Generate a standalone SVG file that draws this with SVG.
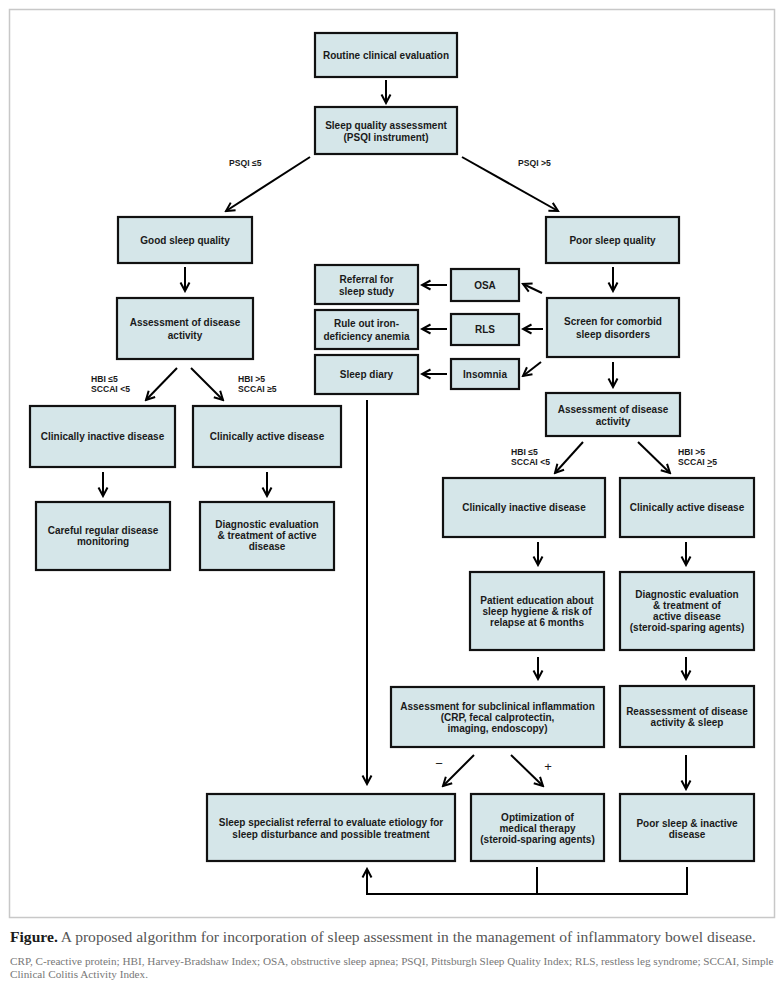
<svg xmlns="http://www.w3.org/2000/svg" width="784" height="989" viewBox="0 0 784 989">
<style>
.b{fill:#d5e6e9;stroke:#111;stroke-width:2.2}
.t{font-family:"Liberation Sans",Arial,sans-serif;font-weight:bold;font-size:10px;fill:#1a1a1a;text-anchor:middle}
.l{font-family:"Liberation Sans",Arial,sans-serif;font-weight:bold;font-size:8.6px;fill:#1a1a1a}
.c{stroke:#000;stroke-width:2;fill:none}
.a{marker-end:url(#ah)}
.cap{font-family:"Liberation Serif","Times New Roman",serif;fill:#555}
</style>
<defs>
<marker id="ah" viewBox="0 0 12 12" refX="10" refY="6" markerWidth="12" markerHeight="12" markerUnits="userSpaceOnUse" orient="auto">
<path d="M1.5,1.5 L10,6 L1.5,10.5" fill="none" stroke="#000" stroke-width="2"/>
</marker>
</defs>
<rect x="0" y="0" width="784" height="989" fill="#fff"/>
<rect x="9.5" y="9.5" width="765" height="908" fill="none" stroke="#c8c8c8" stroke-width="1.5"/>

<g id="connectors">
<path class="c a" d="M386,80 V103"/>
<path class="c a" d="M310,157 L226,211"/>
<path class="c a" d="M462,157 L558,211"/>
<path class="c a" d="M185,267 V291"/>
<path class="c a" d="M613,267 V291"/>
<path class="c a" d="M177,368 L146,400"/>
<path class="c a" d="M191,368 L223,400"/>
<path class="c a" d="M103,472 V496"/>
<path class="c a" d="M267,472 V496"/>
<path class="c a" d="M542,293 L523,284"/>
<path class="c a" d="M543,329 H523"/>
<path class="c a" d="M541,362 L523,376"/>
<path class="c a" d="M447,285 H422"/>
<path class="c a" d="M447,329 H422"/>
<path class="c a" d="M447,374 H422"/>
<path class="c a" d="M367,400 V784"/>
<path class="c a" d="M613,362 V387"/>
<path class="c a" d="M583,442 L555,473"/>
<path class="c a" d="M638,442 L670,473"/>
<path class="c a" d="M538,542 V565"/>
<path class="c a" d="M686,542 V565"/>
<path class="c a" d="M538,657 V679"/>
<path class="c a" d="M686,657 V679"/>
<path class="c a" d="M474,755 L443,786"/>
<path class="c a" d="M511,755 L543,786"/>
<path class="c a" d="M686,755 V789"/>
<path class="c" d="M537,867 V894"/>
<path class="c a" d="M687,867 V894 H367 V869"/>
</g>

<g id="labels">
<text class="l" x="229" y="166">PSQI ≤5</text>
<text class="l" x="518" y="166">PSQI &gt;5</text>
<text class="l" x="91" y="382">HBI ≤5</text>
<text class="l" x="91" y="392">SCCAI &lt;5</text>
<text class="l" x="238" y="382">HBI &gt;5</text>
<text class="l" x="238" y="392">SCCAI ≥5</text>
<text class="l" x="511" y="455">HBI ≤5</text>
<text class="l" x="511" y="465">SCCAI &lt;5</text>
<text class="l" x="678" y="455">HBI &gt;5</text>
<text class="l" x="678" y="465">SCCAI <tspan text-decoration="underline">&gt;</tspan>5</text>
<text class="t" x="439" y="768" style="font-size:13px;font-weight:normal">−</text>
<text class="t" x="548" y="771" style="font-size:13px;font-weight:normal">+</text>
</g>

<g id="routine"><rect class="b" x="315" y="33" width="142" height="44"/><text class="t" x="386" y="58.5">Routine clinical evaluation</text></g>
<g id="sleepquality"><rect class="b" x="315" y="107" width="142" height="47"/><text class="t" x="386" y="128.5">Sleep quality assessment</text><text class="t" x="386" y="140.5">(PSQI instrument)</text></g>
<g id="good"><rect class="b" x="118" y="217" width="134" height="46"/><text class="t" x="185" y="243.5">Good sleep quality</text></g>
<g id="poor"><rect class="b" x="546" y="217" width="133" height="46"/><text class="t" x="612.5" y="243.5">Poor sleep quality</text></g>
<g id="assessL"><rect class="b" x="117" y="298" width="136" height="61"/><text class="t" x="185" y="325.5">Assessment of disease</text><text class="t" x="185" y="338.5">activity</text></g>
<g id="inactiveL"><rect class="b" x="30" y="406" width="145" height="61"/><text class="t" x="102.5" y="439.5">Clinically inactive disease</text></g>
<g id="activeL"><rect class="b" x="193" y="406" width="148" height="61"/><text class="t" x="267" y="439.5">Clinically active disease</text></g>
<g id="careful"><rect class="b" x="36" y="502" width="134" height="68"/><text class="t" x="103" y="533.5">Careful regular disease</text><text class="t" x="103" y="544.5">monitoring</text></g>
<g id="diagL"><rect class="b" x="200" y="502" width="134" height="68"/><text class="t" x="267" y="527.5">Diagnostic evaluation</text><text class="t" x="267" y="538.5">&amp; treatment of active</text><text class="t" x="267" y="549.5">disease</text></g>
<g id="referral"><rect class="b" x="315" y="265" width="103" height="39"/><text class="t" x="366.5" y="282.5">Referral for</text><text class="t" x="366.5" y="294.5">sleep study</text></g>
<g id="ruleout"><rect class="b" x="315" y="310" width="103" height="39"/><text class="t" x="366.5" y="326.5">Rule out iron-</text><text class="t" x="366.5" y="339.5">deficiency anemia</text></g>
<g id="diary"><rect class="b" x="315" y="355" width="103" height="39"/><text class="t" x="366.5" y="377.5">Sleep diary</text></g>
<g id="osa"><rect class="b" x="451" y="269" width="68" height="32"/><text class="t" x="485" y="288.5">OSA</text></g>
<g id="rls"><rect class="b" x="451" y="314" width="68" height="31"/><text class="t" x="485" y="332.5">RLS</text></g>
<g id="insomnia"><rect class="b" x="451" y="359" width="68" height="30"/><text class="t" x="485" y="377.5">Insomnia</text></g>
<g id="screen"><rect class="b" x="547" y="298" width="132" height="59"/><text class="t" x="613" y="324.5">Screen for comorbid</text><text class="t" x="613" y="337.5">sleep disorders</text></g>
<g id="assessR"><rect class="b" x="546" y="393" width="134" height="43"/><text class="t" x="613" y="412.5">Assessment of disease</text><text class="t" x="613" y="424.5">activity</text></g>
<g id="inactiveR"><rect class="b" x="443" y="478" width="162" height="59"/><text class="t" x="524" y="510.5">Clinically inactive disease</text></g>
<g id="activeR"><rect class="b" x="620" y="478" width="134" height="59"/><text class="t" x="687" y="510.5">Clinically active disease</text></g>
<g id="patient"><rect class="b" x="470" y="572" width="134" height="78"/><text class="t" x="537" y="603.5">Patient education about</text><text class="t" x="537" y="614.5">sleep hygiene &amp; risk of</text><text class="t" x="537" y="625.5">relapse at 6 months</text></g>
<g id="diagR"><rect class="b" x="620" y="572" width="134" height="78"/><text class="t" x="687" y="597.5">Diagnostic evaluation</text><text class="t" x="687" y="608.5">&amp; treatment of</text><text class="t" x="687" y="619.5">active disease</text><text class="t" x="687" y="631">(steroid-sparing agents)</text></g>
<g id="subclinical"><rect class="b" x="391" y="687" width="213" height="60"/><text class="t" x="497.5" y="709.5">Assessment for subclinical inflammation</text><text class="t" x="497.5" y="720.5">(CRP, fecal calprotectin,</text><text class="t" x="497.5" y="731.5">imaging, endoscopy)</text></g>
<g id="reassess"><rect class="b" x="620" y="686" width="134" height="61"/><text class="t" x="687" y="714.5">Reassessment of disease</text><text class="t" x="687" y="725.5">activity &amp; sleep</text></g>
<g id="specialist"><rect class="b" x="207" y="794" width="248" height="67"/><text class="t" x="331" y="825.5">Sleep specialist referral to evaluate etiology for</text><text class="t" x="331" y="837.5">sleep disturbance and possible treatment</text></g>
<g id="optimization"><rect class="b" x="471" y="794" width="133" height="67"/><text class="t" x="537.5" y="820.5">Optimization of</text><text class="t" x="537.5" y="831.5">medical therapy</text><text class="t" x="537.5" y="842.5">(steroid-sparing agents)</text></g>
<g id="poorinactive"><rect class="b" x="620" y="794" width="134" height="67"/><text class="t" x="687" y="826.5">Poor sleep &amp; inactive</text><text class="t" x="687" y="837.5">disease</text></g>

<g id="caption">
<text class="cap" x="10" y="942" style="font-size:15.6px"><tspan style="font-weight:bold;fill:#1a1a1a">Figure.</tspan> A proposed algorithm for incorporation of sleep assessment in the management of inflammatory bowel disease.</text>
<text class="cap" x="10" y="964.5" style="font-size:11.2px;fill:#777">CRP, C-reactive protein; HBI, Harvey-Bradshaw Index; OSA, obstructive sleep apnea; PSQI, Pittsburgh Sleep Quality Index; RLS, restless leg syndrome; SCCAI, Simple</text>
<text class="cap" x="10" y="977.5" style="font-size:11.2px;fill:#777">Clinical Colitis Activity Index.</text>
</g>
</svg>
